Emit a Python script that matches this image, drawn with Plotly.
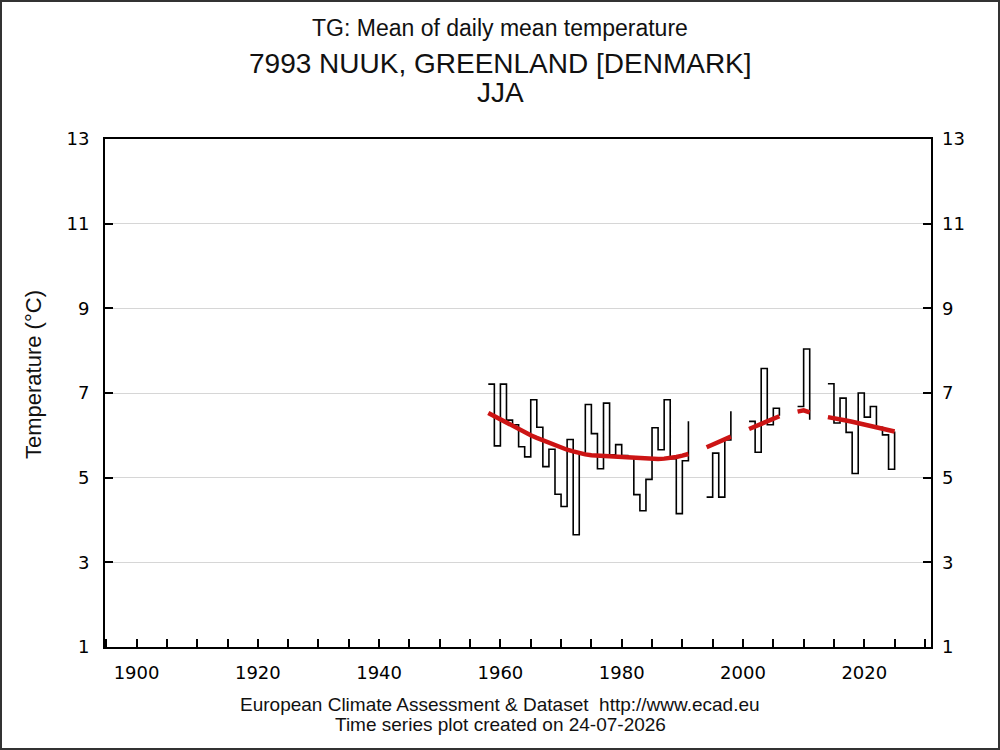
import plotly.graph_objects as go

years = list(range(1958, 2026))

tg = [7.21, 5.75, 7.21, 6.36, 6.25, 5.73, 5.49, 6.84, 6.19, 5.26,
      5.67, 4.61, 4.32, 5.90, 3.65, 5.59, 6.73, 6.04, 5.21, 6.76,
      5.54, 5.78, 5.52, 5.47, 4.60, 4.22, 4.96, 6.18, 5.66, 6.84,
      5.45, 4.15, 5.40, 6.33, None, None, 4.54, 5.58, 4.54, 5.89,
      6.57, None, None, 6.33, 5.60, 7.58, 6.25, 6.64, 6.46, None,
      None, 6.68, 8.04, 6.37, None, None, 7.22, 6.29, 6.88, 6.07,
      5.10, 7.00, 6.43, 6.68, 6.19, 6.01, 5.20, 6.09]

trend = [6.53, 6.45, 6.37, 6.29, 6.21, 6.14, 6.07, 6.00, 5.94, 5.88,
         5.82, 5.76, 5.71, 5.66, 5.62, 5.58, 5.55, 5.53, 5.52, 5.51,
         5.51, 5.50, 5.50, 5.49, 5.48, 5.47, 5.45, 5.44, 5.44, 5.45,
         5.46, 5.49, 5.52, 5.56, None, None, 5.72, 5.78, 5.84, 5.90,
         5.97, None, None, 6.15, 6.21, 6.27, 6.33, 6.39, 6.45, None,
         None, 6.56, 6.59, 6.54, None, None, 6.43, 6.41, 6.38, 6.35,
         6.32, 6.29, 6.26, 6.23, 6.19, 6.15, 6.12, 6.09]

x_ticks = [1900, 1920, 1940, 1960, 1980, 2000, 2020]
y_ticks = [1, 3, 5, 7, 9, 11, 13]

title_lines = ["TG: Mean of daily mean temperature",
               "7993 NUUK, GREENLAND [DENMARK]",
               "JJA"]
footer_lines = ["European Climate Assessment & Dataset  http://www.ecad.eu",
                "Time series plot created on 24-07-2026"]

# plot area in pixels: x 105..931, y 139..647
L, R, T, B = 105, 69, 139, 103
PW, PH = 1000 - L - R, 750 - T - B


def px(x):
    return (x - L) / PW


def py(y):
    return (750 - B - y) / PH


fig = go.Figure()

fig.add_trace(go.Scatter(x=years, y=tg, mode='lines', line_shape='hv',
                         line=dict(color='black', width=1.6),
                         connectgaps=False, showlegend=False))
fig.add_trace(go.Scatter(x=years, y=trend, mode='lines',
                         line=dict(color='#cc1414', width=4.5),
                         connectgaps=False, showlegend=False))
# dummy trace so the right-hand axis gets drawn
fig.add_trace(go.Scatter(x=[years[0]], y=[y_ticks[0]], yaxis='y2', mode='markers',
                         marker=dict(opacity=0), showlegend=False, hoverinfo='skip'))

tick_font = dict(family='DejaVu Sans', size=18, color='black')

fig.update_layout(
    width=1000, height=750,
    margin=dict(l=L, r=R, t=T, b=B),
    paper_bgcolor='white', plot_bgcolor='white',
    xaxis=dict(range=[1894.8, 2031], tickvals=x_ticks, ticks='inside', ticklen=8,
               tickwidth=1.5, tickcolor='black', showgrid=False, zeroline=False,
               showline=True, linecolor='black', linewidth=1.8, mirror=True,
               tickfont=tick_font, ticklabelstandoff=8,
               minor=dict(dtick=5, tick0=1900, ticks='inside', ticklen=8,
                          tickwidth=1.5, tickcolor='black', showgrid=False)),
    yaxis=dict(range=[1, 13], tickvals=y_ticks, ticks='inside', ticklen=8,
               tickwidth=1.5, tickcolor='black', showgrid=True, gridcolor='#d6d6d6',
               gridwidth=1, zeroline=False, showline=True, linecolor='black',
               linewidth=1.8, mirror=True, tickfont=tick_font, ticklabelstandoff=10),
    yaxis2=dict(range=[1, 13], tickvals=y_ticks, ticks='inside', ticklen=8,
                tickwidth=1.5, tickcolor='black', showgrid=False, zeroline=False,
                overlaying='y', side='right', tickfont=tick_font, ticklabelstandoff=10),
)

ann = []
for txt, y, size in zip(title_lines, [28, 63, 93], [23, 28, 28]):
    ann.append(dict(text=txt, x=px(500), y=py(y), xref='paper',
                    yref='paper', showarrow=False, xanchor='center', yanchor='middle',
                    font=dict(family='Liberation Sans', size=size, color='#111')))
for txt, y in zip(footer_lines, [704, 724]):
    ann.append(dict(text=txt, x=px(500), y=py(y), xref='paper',
                    yref='paper', showarrow=False, xanchor='center', yanchor='middle',
                    font=dict(family='Liberation Sans', size=19, color='#111')))
ann.append(dict(text='Temperature (°C)', x=px(33), y=py(375), xref='paper', yref='paper',
                showarrow=False, textangle=-90, xanchor='center', yanchor='middle',
                font=dict(family='Liberation Sans', size=22, color='#111')))
fig.update_layout(annotations=ann)

# frame around the whole picture
fig.add_shape(type='rect', xref='paper', yref='paper', x0=px(1), x1=px(999),
              y0=py(749), y1=py(1), line=dict(color='#333', width=2))

fig.write_html("out.html", config={'displayModeBar': False},
               post_script="document.body.style.margin='0px';")
